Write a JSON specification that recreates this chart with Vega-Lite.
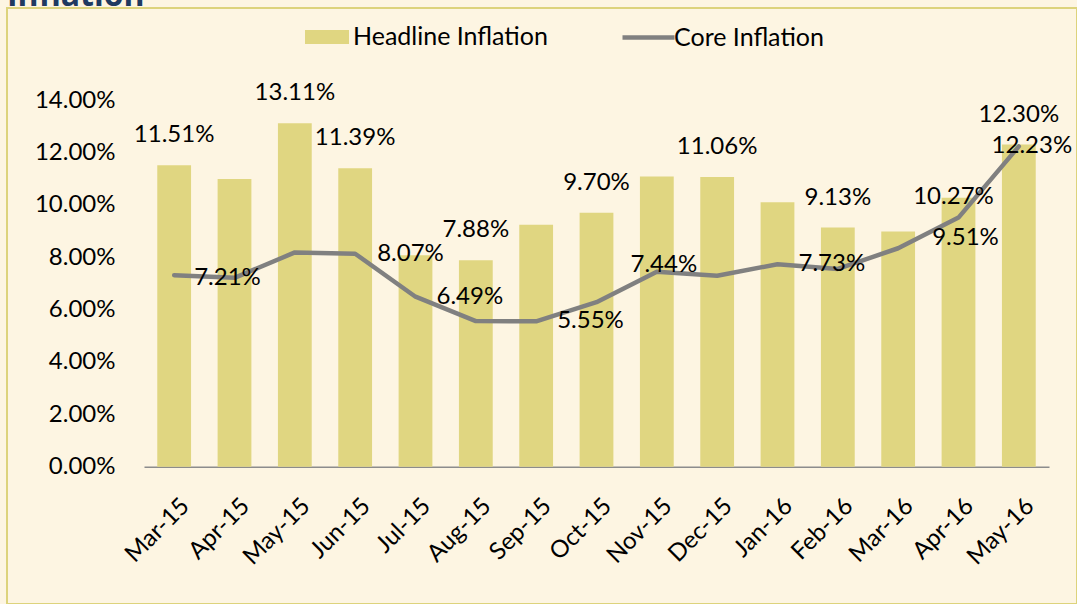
{
  "$schema": "https://vega.github.io/schema/vega-lite/v6.json",
  "width": 1070,
  "height": 596,
  "autosize": {"type": "none"},
  "padding": {"left": 7, "top": 8, "right": 0, "bottom": 0},
  "background": "#fdf5e2",
  "title": {
    "text": "Inflation",
    "anchor": "start",
    "frame": "group",
    "orient": "top",
    "offset": 0,
    "dy": 30,
    "baseline": "alphabetic",
    "font": "Open Sans",
    "fontSize": 32,
    "fontWeight": "bold",
    "color": "#1f3a60"
  },
  "config": {
    "view": {"stroke": "#ddd37c", "strokeWidth": 2},
    "axis": {"labelFont": "Lato", "labelFontSize": 24, "labelColor": "#000000"},
    "legend": {"labelFont": "Lato", "labelFontSize": 25, "labelColor": "#000000", "labelLimit": 0},
    "text": {"font": "Lato", "fontSize": 24, "color": "#000000"}
  },
  "data": {
    "values": [
      {"month": "Mar-15", "headline": 0.1151, "core": 0.0731},
      {"month": "Apr-15", "headline": 0.1098, "core": 0.0721},
      {"month": "May-15", "headline": 0.1311, "core": 0.0818},
      {"month": "Jun-15", "headline": 0.1139, "core": 0.0813},
      {"month": "Jul-15", "headline": 0.0807, "core": 0.0649},
      {"month": "Aug-15", "headline": 0.0788, "core": 0.0556},
      {"month": "Sep-15", "headline": 0.0924, "core": 0.0555},
      {"month": "Oct-15", "headline": 0.0970, "core": 0.0628},
      {"month": "Nov-15", "headline": 0.1108, "core": 0.0744},
      {"month": "Dec-15", "headline": 0.1106, "core": 0.0729},
      {"month": "Jan-16", "headline": 0.1010, "core": 0.0773},
      {"month": "Feb-16", "headline": 0.0913, "core": 0.0755},
      {"month": "Mar-16", "headline": 0.0898, "core": 0.0834},
      {"month": "Apr-16", "headline": 0.1027, "core": 0.0951},
      {"month": "May-16", "headline": 0.1230, "core": 0.1223}
    ]
  },
  "encoding": {
    "x": {
      "field": "month",
      "type": "nominal",
      "sort": null,
      "scale": {"range": [137, 1042], "paddingInner": 0.44, "paddingOuter": 0.22},
      "axis": {
        "title": null,
        "labelAngle": -45,
        "labelAlign": "right",
        "labelBaseline": "top",
        "labelPadding": 27,
        "labelOffset": 3,
        "ticks": false,
        "domainColor": "#8c8c8c",
        "domainWidth": 1.5,
        "offset": -137.3,
        "grid": false
      }
    }
  },
  "layer": [
    {
      "mark": {"type": "bar"},
      "encoding": {
        "y": {
          "field": "headline",
          "type": "quantitative",
          "title": null,
          "scale": {"domain": [0, 0.14], "range": [458.7, 92], "nice": false},
          "axis": {
            "title": null,
            "values": [0, 0.02, 0.04, 0.06, 0.08, 0.1, 0.12, 0.14],
            "format": ".2%",
            "ticks": false,
            "domain": false,
            "grid": false,
            "labelPadding": 29,
            "offset": -137
          }
        },
        "fill": {
          "datum": "Headline Inflation",
          "scale": {"range": ["#e0d681"]},
          "legend": {
            "title": null,
            "orient": "none",
            "legendX": 298,
            "legendY": 7,
            "padding": 0,
            "symbolType": "M-1,-0.32H1V0.32H-1Z",
            "symbolSize": 1936,
            "symbolStrokeWidth": 0,
            "symbolOpacity": 1,
            "labelOffset": 4
          }
        }
      }
    },
    {
      "mark": {"type": "line", "strokeWidth": 4.5, "strokeCap": "round", "strokeJoin": "round"},
      "encoding": {
        "y": {"field": "core", "type": "quantitative", "title": null},
        "stroke": {
          "datum": "Core Inflation",
          "scale": {"range": ["#808080"]},
          "legend": {
            "title": null,
            "orient": "none",
            "legendX": 613,
            "legendY": 1,
            "padding": 0,
            "symbolType": "stroke",
            "symbolSize": 2704,
            "symbolStrokeWidth": 4.5,
            "labelOffset": -3
          }
        }
      }
    },
    {
      "transform": [{"filter": {"field": "month", "oneOf": ["Mar-15", "May-15", "Jun-15", "Aug-15", "Oct-15", "Dec-15", "Feb-16", "May-16"]}}],
      "mark": {"type": "text", "dy": -30, "baseline": "middle"},
      "encoding": {
        "y": {"field": "headline", "type": "quantitative", "title": null},
        "text": {"field": "headline", "type": "quantitative", "format": ".2%"}
      }
    },
    {
      "transform": [{"filter": {"field": "month", "oneOf": ["Jul-15", "Apr-16"]}}],
      "mark": {"type": "text", "dx": -5, "dy": -1, "baseline": "middle"},
      "encoding": {
        "y": {"field": "headline", "type": "quantitative", "title": null},
        "text": {"field": "headline", "type": "quantitative", "format": ".2%"}
      }
    },
    {
      "transform": [{"filter": {"field": "month", "oneOf": ["Jul-15", "Sep-15", "Jan-16"]}}],
      "mark": {"type": "text", "align": "left", "dx": 21, "baseline": "middle"},
      "encoding": {
        "y": {"field": "core", "type": "quantitative", "title": null},
        "text": {"field": "core", "type": "quantitative", "format": ".2%"}
      }
    },
    {
      "transform": [{"filter": {"field": "month", "equal": "Apr-15"}}],
      "mark": {"type": "text", "dx": -7, "baseline": "middle"},
      "encoding": {
        "y": {"field": "core", "type": "quantitative", "title": null},
        "text": {"field": "core", "type": "quantitative", "format": ".2%"}
      }
    },
    {
      "transform": [{"filter": {"field": "month", "equal": "Nov-15"}}],
      "mark": {"type": "text", "dx": 7, "dy": -7, "baseline": "middle"},
      "encoding": {
        "y": {"field": "core", "type": "quantitative", "title": null},
        "text": {"field": "core", "type": "quantitative", "format": ".2%"}
      }
    },
    {
      "transform": [{"filter": {"field": "month", "equal": "Apr-16"}}],
      "mark": {"type": "text", "dx": 7, "dy": 20, "baseline": "middle"},
      "encoding": {
        "y": {"field": "core", "type": "quantitative", "title": null},
        "text": {"field": "core", "type": "quantitative", "format": ".2%"}
      }
    },
    {
      "transform": [{"filter": {"field": "month", "equal": "May-16"}}],
      "mark": {"type": "text", "dx": 13, "baseline": "middle"},
      "encoding": {
        "y": {"field": "core", "type": "quantitative", "title": null},
        "text": {"field": "core", "type": "quantitative", "format": ".2%"}
      }
    }
  ]
}
